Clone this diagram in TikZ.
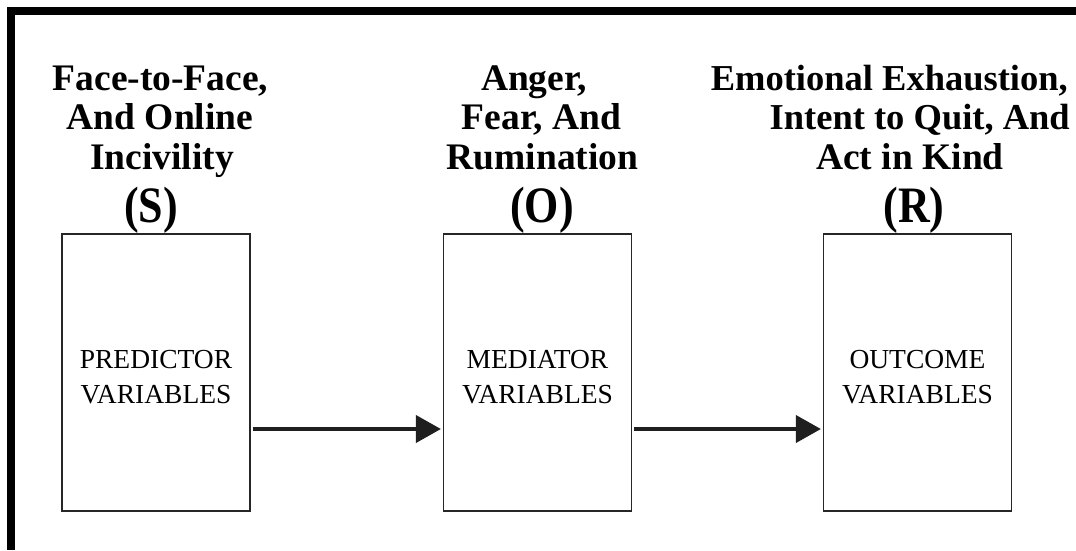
\documentclass[tikz,border=0pt]{standalone}
\usepackage{fontspec}
\setmainfont{Liberation Serif}
\usetikzlibrary{arrows.meta}
\newcommand{\tallletter}[1]{\scalebox{1}[1.16]{#1}}
\begin{document}
\begin{tikzpicture}[x=1pt,y=-1pt,
  headline/.style={font=\bfseries\fontsize{37.5}{40}\selectfont, inner sep=0pt, anchor=base},
  headright/.style={font=\bfseries\fontsize{36.5}{40}\selectfont, inner sep=0pt, anchor=base east},
  headletter/.style={font=\bfseries\fontsize{44}{50}\selectfont, inner sep=0pt, anchor=base},
  varbox/.style={draw=black!85, line width=1.2pt, minimum width=188pt, minimum height=277pt, inner sep=0pt},
  boxlabel/.style={font=\fontsize{27.5}{35}\selectfont, align=center, inner sep=0pt, yshift=-5pt},
  flow/.style={draw=black!88, line width=4pt, -{Triangle[length=25pt,width=27pt]}, shorten <=2pt, shorten >=2pt}
]
\useasboundingbox (0,0) rectangle (1076,550);
% frame
\draw[line width=8pt, line join=miter] (11,550) -- (11,11) -- (1076,11);
% headings
\node[headline] (s1) at (160.5,90) {Face-to-Face,};
\node[headline] (s2) at (160,129.5) {And Online};
\node[headline] (s3) at (162,169) {Incivility};
\node[headletter] (sl) at (151,222) {\tallletter{(S)}};
\node[headline] (o1) at (534,90) {Anger,};
\node[headline] (o2) at (541.5,129.5) {Fear, And};
\node[headline] (o3) at (542.5,169) {Rumination};
\node[headletter] (ol) at (542,222) {\tallletter{(O)}};
\node[headright] (r1) at (1068,90) {Emotional Exhaustion,};
\node[headright] (r2) at (1070,129.5) {Intent to Quit, And};
\node[headline] (r3) at (910,169) {Act in Kind};
\node[headletter] (rl) at (914,222) {\tallletter{(R)}};
% boxes
\node[varbox, label={[boxlabel]center:{PREDICTOR\\VARIABLES}}] (b1) at (156,372.5) {};
\node[varbox, label={[boxlabel]center:{MEDIATOR\\VARIABLES}}] (b2) at (537.5,372.5) {};
\node[varbox, label={[boxlabel]center:{OUTCOME\\VARIABLES}}] (b3) at (917.5,372.5) {};
% arrows
\draw[flow] ([yshift=-56.5pt]b1.east) -- ([yshift=-56.5pt]b2.west);
\draw[flow] ([yshift=-56.5pt]b2.east) -- ([yshift=-56.5pt]b3.west);
\end{tikzpicture}
\end{document}
